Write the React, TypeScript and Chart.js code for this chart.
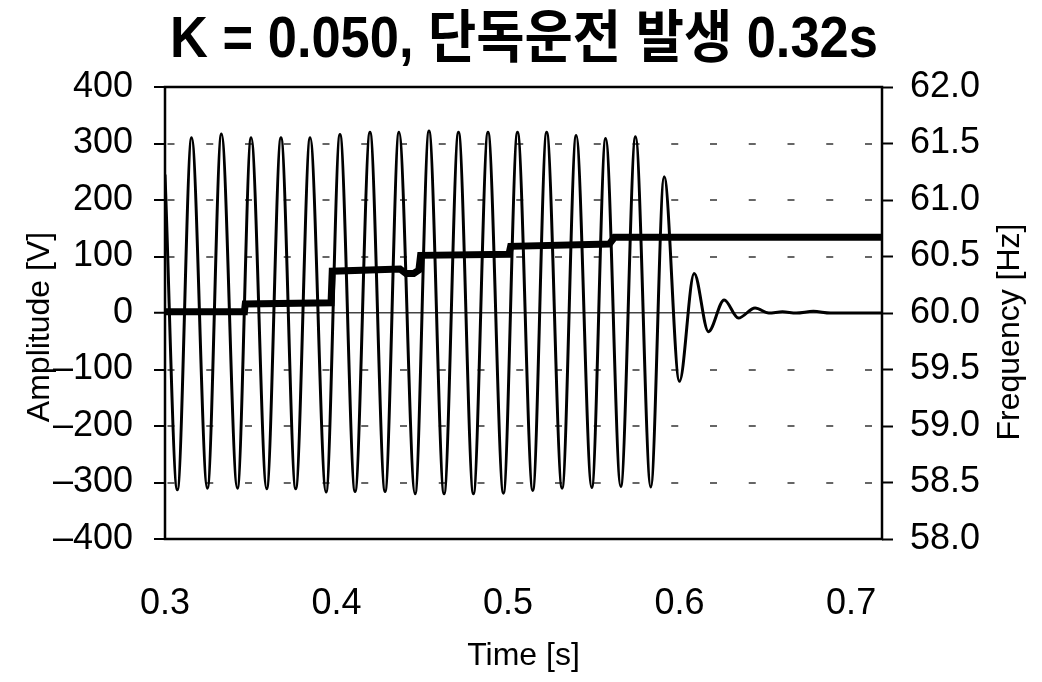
import React, { useEffect, useRef } from "react";
import { Chart, registerables } from "chart.js";

Chart.register(...registerables);

// ---- text ----
const TITLE = "K = 0.050, 단독운전 발생 0.32s";
const X_LABEL = "Time [s]";
const Y_LEFT_LABEL = "Amplitude [V]";
const Y_RIGHT_LABEL = "Frequency [Hz]";

// ---- axes ----
const X_MIN = 0.3;
const X_MAX = 0.718;
const X_TICKS = [0.3, 0.4, 0.5, 0.6, 0.7];
const AMP_MIN = -400;
const AMP_MAX = 400;
const AMP_STEP = 100;
const FREQ_MIN = 58;
const FREQ_MAX = 62;
const FREQ_STEP = 0.5;

// ---- voltage waveform: extremes ----
const VOLT_T = [
  0.3, 0.3072, 0.3155, 0.3247, 0.3329, 0.3422, 0.3502, 0.3593, 0.3676, 0.3762,
  0.3846, 0.3939, 0.402, 0.4108, 0.4195, 0.4283, 0.4364, 0.4458, 0.4539, 0.4627,
  0.4711, 0.4798, 0.4883, 0.4973, 0.5055, 0.5144, 0.5225, 0.5315, 0.5397, 0.5488,
  0.5569, 0.5657, 0.5743, 0.5832, 0.591, 0.5999, 0.6085, 0.6168, 0.626, 0.6343,
  0.644, 0.652, 0.66, 0.668, 0.678, 0.688, 0.718,
];
const VOLT_V = [
  245, -313, 310, -310, 317, -310, 310, -311, 310, -311,
  310, -317, 316, -316, 320, -316, 320, -320, 322, -320,
  320, -320, 320, -319, 320, -314, 320, -310, 314, -309,
  309, -307, 312, -308, 241, -121, 70, -33, 23, -9,
  9, 0, 2, 0, 3, 0, 0,
];

// ---- frequency trace ----
const FREQ_T = [
  0.3, 0.3463, 0.3468, 0.3968, 0.3975, 0.437, 0.4405, 0.445, 0.448, 0.449,
  0.5005, 0.5015, 0.559, 0.562, 0.718,
];
const FREQ_HZ = [
  60.01, 60.01, 60.08, 60.09, 60.37, 60.39, 60.35, 60.35, 60.38, 60.51,
  60.52, 60.59, 60.61, 60.67, 60.67,
];

const FONT = "'Liberation Sans', Arial, Helvetica, sans-serif";
const TITLE_FONT = "'Liberation Sans', 'Noto Sans CJK KR', sans-serif";

const fmtAmp = (v: number) => (v < 0 ? "\u2013" + Math.abs(v) : String(v));

const framePlugin = {
  id: "frame",
  afterDatasetsDraw(chart: any) {
    const { ctx, chartArea: a } = chart;
    ctx.save();
    ctx.strokeStyle = "#000";
    ctx.lineWidth = 2.5;
    ctx.strokeRect(a.left, a.top, a.right - a.left, a.bottom - a.top);
    ctx.restore();
  },
};

const textPlugin = {
  id: "texts",
  afterDraw(chart: any) {
    const { ctx, chartArea: a } = chart;
    const cy = (a.top + a.bottom) / 2;
    ctx.save();
    ctx.fillStyle = "#000";
    // chart title (condensed bold)
    ctx.save();
    ctx.font = `bold 57px ${TITLE_FONT}`;
    ctx.textAlign = "center";
    ctx.textBaseline = "alphabetic";
    ctx.translate(524, a.top - 30);
    ctx.scale(0.92, 1);
    ctx.fillText(TITLE, 0, 0);
    ctx.restore();
    // axis titles (both read bottom-to-top)
    ctx.font = `32px ${FONT}`;
    ctx.textAlign = "center";
    ctx.textBaseline = "middle";
    ctx.save();
    ctx.translate(a.left - 125, cy + 14);
    ctx.rotate(-Math.PI / 2);
    ctx.fillText(Y_LEFT_LABEL, 0, 0);
    ctx.restore();
    ctx.save();
    ctx.translate(a.right + 128, cy + 19);
    ctx.rotate(-Math.PI / 2);
    ctx.fillText(Y_RIGHT_LABEL, 0, 0);
    ctx.restore();
    ctx.restore();
  },
};

export default function App() {
  const ref = useRef<HTMLCanvasElement>(null);

  useEffect(() => {
    const voltage = VOLT_T.map((t, i) => ({ x: t, y: VOLT_V[i] }));
    const freq = FREQ_T.map((t, i) => ({ x: t, y: FREQ_HZ[i] }));
    const chart = new Chart(ref.current as HTMLCanvasElement, {
      type: "line",
      data: {
        datasets: [
          {
            label: "Amplitude",
            data: voltage,
            yAxisID: "y",
            borderColor: "#000",
            borderWidth: 3,
            pointRadius: 0,
            cubicInterpolationMode: "monotone",
            fill: false,
          },
          {
            label: "Frequency",
            data: freq,
            yAxisID: "y1",
            borderColor: "#000",
            borderWidth: 7,
            pointRadius: 0,
            tension: 0,
            fill: false,
          },
        ],
      },
      options: {
        responsive: false,
        animation: false,
        events: [],
        layout: { padding: { top: 87, left: 0, right: 0, bottom: 0 } },
        plugins: {
          legend: { display: false },
          tooltip: { enabled: false },
          title: { display: false },
        },
        scales: {
          x: {
            type: "linear",
            min: X_MIN,
            max: X_MAX,
            afterBuildTicks: (s: any) => {
              s.ticks = X_TICKS.map((v) => ({ value: v }));
            },
            afterFit: (s: any) => {
              s.height = 143;
            },
            grid: { display: false },
            border: { display: false },
            ticks: {
              autoSkip: false,
              maxRotation: 0,
              padding: 35,
              color: "#000",
              font: { family: FONT, size: 36 },
              callback: (v: any) => Number(v).toFixed(1),
            },
            title: {
              display: true,
              text: X_LABEL,
              color: "#000",
              font: { family: FONT, size: 32, lineHeight: 1.2 },
              padding: { top: 0, bottom: 7 },
            },
          },
          y: {
            type: "linear",
            position: "left",
            min: AMP_MIN,
            max: AMP_MAX,
            afterFit: (s: any) => {
              s.width = 165;
            },
            ticks: {
              stepSize: AMP_STEP,
              padding: 21,
              color: "#000",
              font: { family: FONT, size: 36 },
              callback: (v: any) => fmtAmp(Number(v)),
            },
            grid: {
              color: (c: any) => {
                const v = c.tick ? c.tick.value : null;
                if (v === AMP_MIN || v === AMP_MAX) return "rgba(0,0,0,0)";
                return v === 0 ? "#444" : "#666";
              },
              lineWidth: (c: any) => (c.tick && c.tick.value === 0 ? 1.5 : 2),
              drawTicks: true,
              tickLength: 11,
              tickColor: "#000",
              tickWidth: 2,
            },
            border: {
              display: false,
              dash: (c: any) => (c.tick && c.tick.value !== 0 ? [7, 31.75] : []),
              dashOffset: -2.5,
            },
          },
          y1: {
            type: "linear",
            position: "right",
            min: FREQ_MIN,
            max: FREQ_MAX,
            afterFit: (s: any) => {
              s.width = 160;
            },
            ticks: {
              stepSize: FREQ_STEP,
              padding: 17,
              color: "#000",
              font: { family: FONT, size: 36 },
              callback: (v: any) => Number(v).toFixed(1),
            },
            grid: {
              drawOnChartArea: false,
              drawTicks: true,
              tickLength: 11,
              tickColor: "#000",
              tickWidth: 2,
            },
            border: { display: false },
          },
        },
      },
      plugins: [framePlugin, textPlugin],
    } as any);
    return () => chart.destroy();
  }, []);

  return (
    <div style={{ position: "fixed", left: 0, top: 0, width: 1042, height: 682, background: "#fff" }}>
      <canvas ref={ref} width={1042} height={682} style={{ display: "block", width: 1042, height: 682 }} />
    </div>
  );
}
